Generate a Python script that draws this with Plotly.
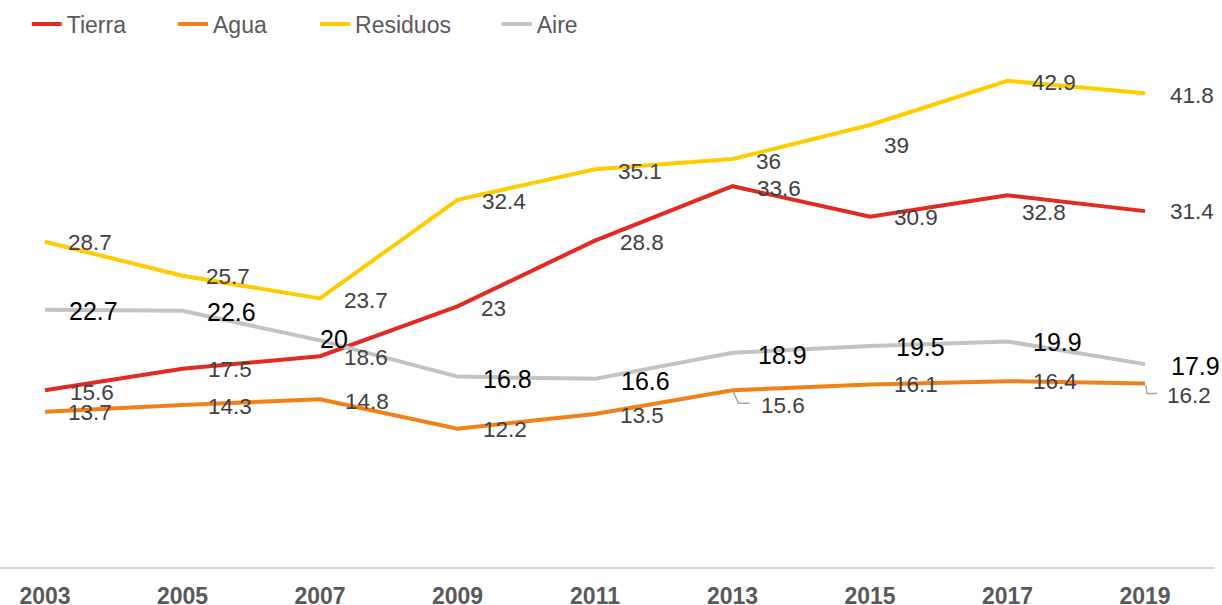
import plotly.graph_objects as go

years = [2003, 2005, 2007, 2009, 2011, 2013, 2015, 2017, 2019]
tierra = [15.6, 17.5, 18.6, 23, 28.8, 33.6, 30.9, 32.8, 31.4]
agua = [13.7, 14.3, 14.8, 12.2, 13.5, 15.6, 16.1, 16.4, 16.2]
residuos = [28.7, 25.7, 23.7, 32.4, 35.1, 36, 39, 42.9, 41.8]
aire = [22.7, 22.6, 20, 16.8, 16.6, 18.9, 19.5, 19.9, 17.9]
tick_labels = [str(y) for y in years]

# label offsets (pixels; dx right, dy down) of each data label's centre from its point
tierra_dx = [47, 47, 46, 36, 47, 46, 46, 36, 47]
tierra_dy = [2, 1, 1, 2, 2, 2, 1, 17, 0]
agua_dx = [45, 47, 47, 47, 47, 50, 46, 47, 44]
agua_dy = [1, 2, 2, 1, 1, 15, 0, 0, 12]
residuos_dx = [45, 45, 46, 46, 45, 36, 26, 46, 47]
residuos_dy = [1, 1, 2, 2, 2, 2, 20, 2, 2]
aire_dx = [48, 49, 14, 50, 50, 50, 50, 50, 50]
aire_dy = [1, 1, -1, 2, 2, 2, 1, 1, 2]

FONT = "Liberation Sans, Arial, sans-serif"
series = [
    ("Tierra", tierra, "#E32A22", tierra_dx, tierra_dy, "#404040", 22.5, "legend"),
    ("Agua", agua, "#F28019", agua_dx, agua_dy, "#404040", 22.5, "legend2"),
    ("Residuos", residuos, "#FFCC00", residuos_dx, residuos_dy, "#404040", 22.5, "legend3"),
    ("Aire", aire, "#C3C3C3", aire_dx, aire_dy, "#000000", 25, "legend4"),
]
legend_x = [0.022, 0.1424, 0.2593, 0.4088]

fig = go.Figure()
annotations = []
for name, vals, color, dxs, dys, tcolor, tsize, lg in series:
    fig.add_trace(go.Scatter(
        x=years, y=vals, name=name, mode="lines", legend=lg,
        line=dict(color=color, width=4), hoverinfo="skip",
    ))
    for x, v, dx, dy in zip(years, vals, dxs, dys):
        annotations.append(dict(
            x=x, y=v, xref="x", yref="y", text=f"{v:g}", showarrow=False,
            xanchor="center", yanchor="middle", xshift=dx, yshift=-dy,
            font=dict(family=FONT, size=tsize, color=tcolor),
        ))

# leader lines for two Agua labels
leader_idx = [5, 8]
leader_paths = ["M1,-2 L6,-13 L17,-13", "M1,-2 L2,-10 L12,-10"]
shapes = []
for i, p in zip(leader_idx, leader_paths):
    shapes.append(dict(
        type="path", xref="x", yref="y", xsizemode="pixel", ysizemode="pixel",
        xanchor=years[i], yanchor=agua[i], path=p,
        line=dict(color="#A6A6A6", width=1.5),
    ))


def legend_box(x):
    return dict(
        orientation="h", x=x, xanchor="left", y=1.0647, yanchor="middle",
        font=dict(family=FONT, size=23, color="#595959"),
        bgcolor="rgba(0,0,0,0)", itemclick=False,
    )


fig.update_layout(
    width=1222, height=605,
    margin=dict(l=0, r=7, t=57, b=38),
    paper_bgcolor="white", plot_bgcolor="white",
    font=dict(family=FONT, color="#595959"),
    showlegend=True,
    hovermode=False,
    legend=legend_box(legend_x[0]),
    legend2=legend_box(legend_x[1]),
    legend3=legend_box(legend_x[2]),
    legend4=legend_box(legend_x[3]),
    annotations=annotations,
    shapes=shapes,
    xaxis=dict(
        range=[2002.3455, 2020.018], tickmode="array", tickvals=years,
        ticktext=tick_labels, showgrid=False, zeroline=False,
        showline=True, linecolor="#D9D9D9", linewidth=2,
        ticks="", ticklabelstandoff=7, automargin=False,
        tickfont=dict(family=FONT, size=23, color="#595959", weight="bold"),
    ),
    yaxis=dict(
        range=[0, 45], showgrid=False, zeroline=False, showline=False,
        showticklabels=False, ticks="", automargin=False,
    ),
)

fig.write_html(
    "out.html",
    config={"displayModeBar": False, "staticPlot": True},
    post_script="document.body.style.margin='0';document.body.style.overflow='hidden';",
)
